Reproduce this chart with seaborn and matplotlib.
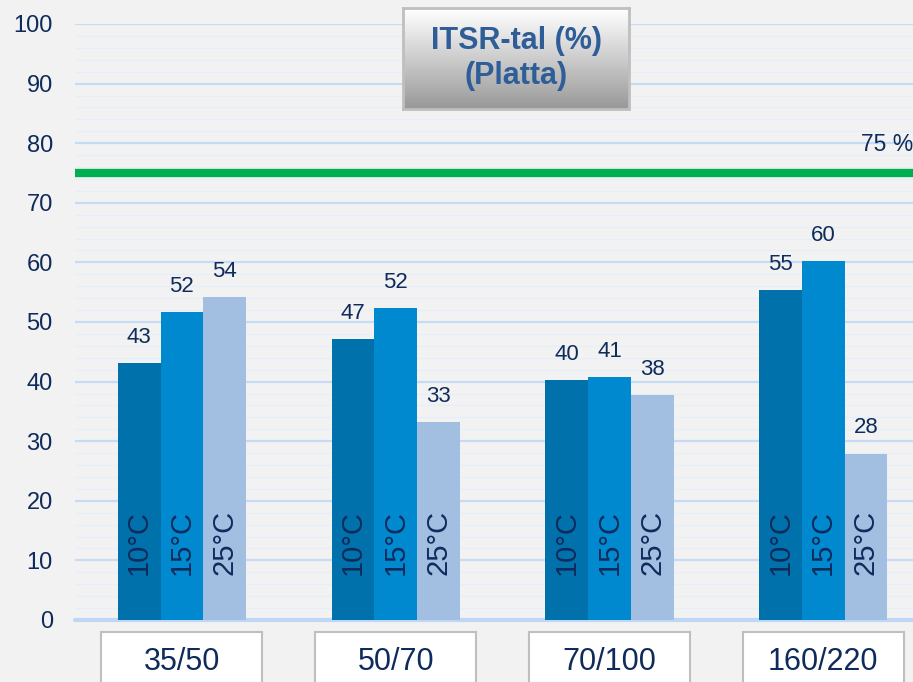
import numpy as np
import pandas as pd
import matplotlib.pyplot as plt
import matplotlib.transforms as mtransforms
from matplotlib.patches import Rectangle
import seaborn as sns

sns.set_style('white')
plt.rcParams['font.family'] = ['Liberation Sans', 'DejaVu Sans']

# data
categories = ['35/50', '50/70', '70/100', '160/220']
temps = ['10°C', '15°C', '25°C']
itsr_10 = [43.1, 47.1, 40.2, 55.4]
itsr_15 = [51.7, 52.3, 40.7, 60.2]
itsr_25 = [54.2, 33.2, 37.7, 27.9]
limit = 75

colors = ['#0071AB', '#0089CF', '#A2BFE2']
navy = '#0F2B5B'
bg = '#F2F2F2'

df = pd.DataFrame({
    'Bindemedel': categories * 3,
    'Temp': [t for t in temps for _ in categories],
    'ITSR': itsr_10 + itsr_15 + itsr_25,
})

fig = plt.figure(figsize=(9.13, 6.82), dpi=100, facecolor=bg)
ax = fig.add_axes([75 / 913, 62 / 682, 838 / 913, 596 / 682])
ax.set_facecolor(bg)

sns.barplot(data=df, x='Bindemedel', y='ITSR', hue='Temp', order=categories,
            hue_order=temps, palette=colors, width=0.6, linewidth=0,
            saturation=1, legend=False, ax=ax, zorder=3)

ax.set_ylim(0, 100)
ax.set_xlim(-0.5, 3.42)
ax.set_yticks(np.arange(0, 101, 10))
ax.set_yticks(np.arange(0, 101, 2), minor=True)
ax.grid(axis='y', which='major', color='#C6DCF6', linewidth=1.6, zorder=0)
ax.grid(axis='y', which='minor', color='#E6EFF9', linewidth=1.0, zorder=0)
ax.set_axisbelow(True)
ax.tick_params(axis='y', which='both', length=0, pad=16, labelsize=17, labelcolor=navy)
ax.set_xticks([])
ax.set_xlabel('')
ax.set_ylabel('')
for s in ax.spines.values():
    s.set_visible(False)
ax.axhline(0, color='#BDD7F5', linewidth=3, zorder=2, clip_on=False)

# 75 % limit line
ax.axhline(limit, color='#00B050', linewidth=6, zorder=4)
ax.text(1.0, 79.7, f'{limit} %', transform=mtransforms.blended_transform_factory(fig.transFigure, ax.transData),
        ha='right', va='center', fontsize=16.5, color=navy)

# value labels and temperature labels inside the bars
for cont, t in zip(ax.containers, temps):
    ax.bar_label(cont, fmt='%.0f', padding=11, fontsize=16, color=navy)
    for p in cont:
        ax.text(p.get_x() + p.get_width() / 2, 7.6, t, rotation=90, ha='center', va='bottom',
                fontsize=21, color=navy, zorder=5)

# category boxes below the axis
trans = mtransforms.blended_transform_factory(ax.transData, ax.transAxes)
for i, c in enumerate(categories):
    ax.add_patch(Rectangle((i - 0.377, -0.2), 0.753, 0.18, transform=trans, clip_on=False,
                           facecolor='white', edgecolor='#BFBFBF', linewidth=1.5))
    ax.text(i, -0.071, c, transform=trans, ha='center', va='center', fontsize=22, color=navy)

# title box with grey gradient
tax = fig.add_axes([403 / 913, 1 - 109 / 682, 226 / 913, 101 / 682])
grad = np.linspace(1.0, 0.6, 100).reshape(-1, 1)
tax.imshow(grad, cmap='gray', vmin=0, vmax=1, aspect='auto', extent=(0, 1, 0, 1))
tax.set_xticks([])
tax.set_yticks([])
for s in tax.spines.values():
    s.set_color('#BFBFBF')
    s.set_linewidth(2)
tax.text(0.5, 0.5, 'ITSR-tal (%)\n(Platta)', ha='center', va='center', fontsize=22,
         fontweight='bold', color='#2E5D98', linespacing=1.25, transform=tax.transAxes)

fig.savefig('out.png', dpi=100, facecolor=bg)
